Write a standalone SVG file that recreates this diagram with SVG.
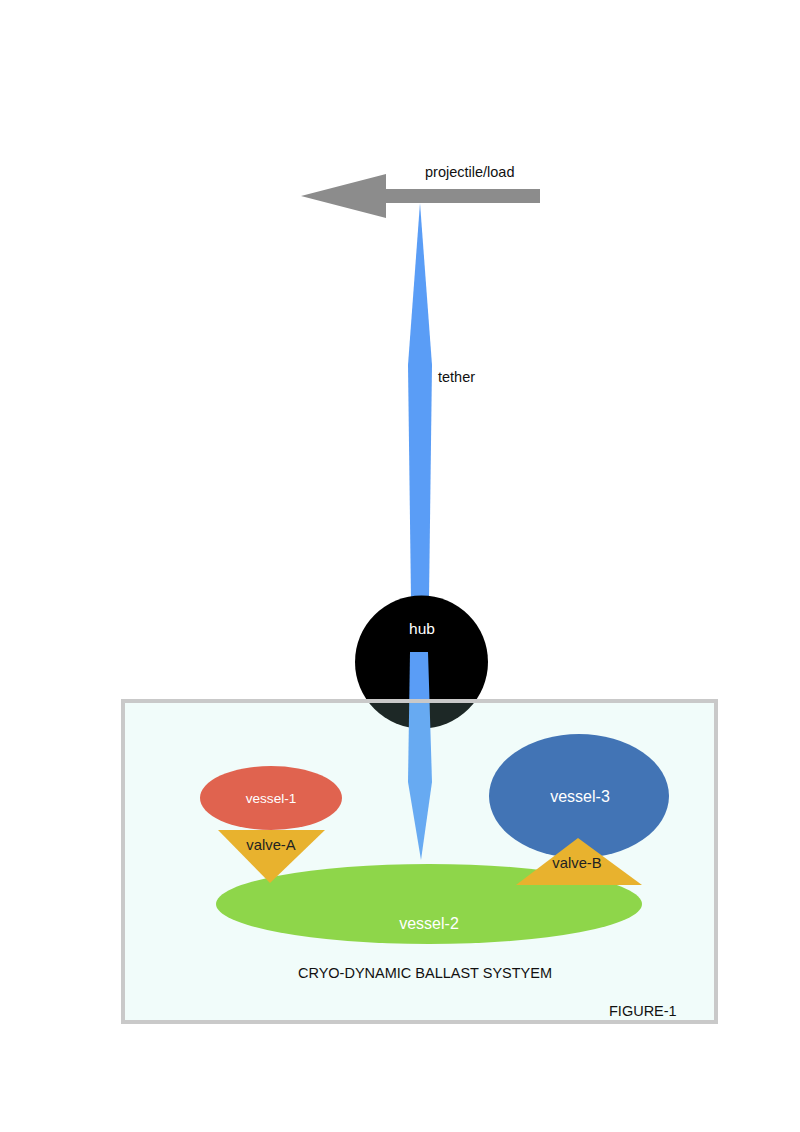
<svg xmlns="http://www.w3.org/2000/svg" width="800" height="1132" viewBox="0 0 800 1132">
<style>
text{font-family:"Liberation Sans",Arial,sans-serif;}
.lbl{font-size:14.5px;fill:#111;}
.wlbl{fill:#fff;text-anchor:middle;}
.dlbl{fill:#222;text-anchor:middle;font-size:14.8px;}
.teth{fill:#5a9df6;}
.valve{fill:#e8b22e;}
</style>
<rect x="0" y="0" width="800" height="1132" fill="#fff"/>
<g id="connectors">
  <g id="projectile-arrow">
    <polygon points="540,189 386,189 386,174 301,196 386,218 386,203 540,203" fill="#8c8c8c"/>
  </g>
  <g id="tether-upper">
    <polygon class="teth" points="420,203 432,365 429,600 411,600 408,365"/>
  </g>
</g>
<g id="hub">
  <circle cx="421.5" cy="662" r="66.5" fill="#000"/>
  <text x="422" y="634" class="wlbl" font-size="15.5">hub</text>
</g>
<g id="tether-lower">
  <polygon class="teth" points="410,652 428,652 432,782 421,860 408,782"/>
</g>
<g id="system-box">
  <rect x="123" y="701" width="593" height="321" fill="rgb(170,238,228)" fill-opacity="0.17" stroke="#c9c9c9" stroke-width="4"/>
  <text x="425" y="978" text-anchor="middle" class="lbl">CRYO-DYNAMIC BALLAST SYSTYEM</text>
  <text x="609" y="1016" class="lbl">FIGURE-1</text>
</g>
<g id="tether-label">
  <text x="438" y="382" class="lbl">tether</text>
</g>
<g id="projectile-label">
  <text x="425" y="177" class="lbl">projectile/load</text>
</g>
<g id="vessel-2">
  <ellipse cx="429" cy="904" rx="213" ry="40" fill="#8ed64a"/>
  <text x="429" y="929" class="wlbl" font-size="16">vessel-2</text>
</g>
<g id="vessel-1">
  <ellipse cx="271" cy="798" rx="71" ry="32" fill="#e0634f"/>
  <text x="271" y="803" class="wlbl" font-size="13.6">vessel-1</text>
</g>
<g id="vessel-3">
  <ellipse cx="579" cy="796" rx="90" ry="62" fill="#4274b5"/>
  <text x="580" y="802" class="wlbl" font-size="16">vessel-3</text>
</g>
<g id="valve-A">
  <polygon class="valve" points="218,830 325,830 270,883"/>
  <text x="271" y="850" class="dlbl">valve-A</text>
</g>
<g id="valve-B">
  <polygon class="valve" points="578,838 642,885 516,885"/>
  <text x="577" y="868" class="dlbl">valve-B</text>
</g>
</svg>
